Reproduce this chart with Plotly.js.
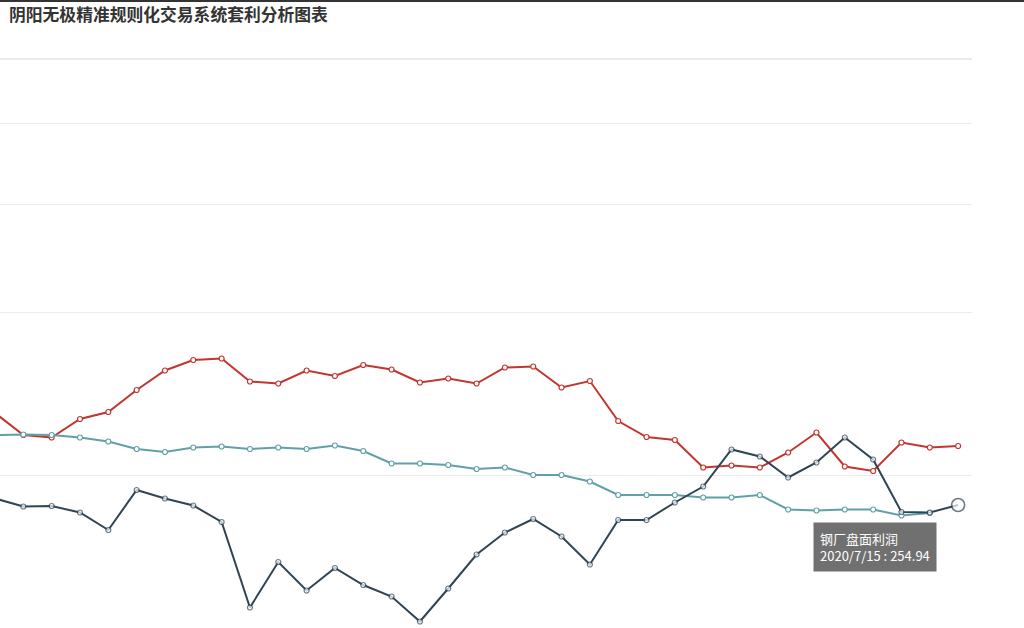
<!DOCTYPE html>
<html>
<head>
<meta charset="utf-8">
<script src="https://cdn.plot.ly/plotly-3.0.1.min.js"></script>
<style>
  html, body { margin: 0; padding: 0; background: #fff; overflow: hidden; }
  #chart { width: 1024px; height: 626px; border-top: 2px solid #333; }
</style>
</head>
<body>
<div id="chart"></div>
<script>
const dates = [
  "2019/11/20", "2019/11/27", "2019/12/4", "2019/12/11", "2019/12/18", "2019/12/25",
  "2020/1/1", "2020/1/8", "2020/1/15", "2020/1/22", "2020/1/29", "2020/2/5",
  "2020/2/12", "2020/2/19", "2020/2/26", "2020/3/4", "2020/3/11", "2020/3/18",
  "2020/3/25", "2020/4/1", "2020/4/8", "2020/4/15", "2020/4/22", "2020/4/29",
  "2020/5/6", "2020/5/13", "2020/5/20", "2020/5/27", "2020/6/3", "2020/6/10",
  "2020/6/17", "2020/6/24", "2020/7/1", "2020/7/8", "2020/7/15"
];

const redName = "螺纹盘面利润";
const redValues = [
  439, 395, 390, 427, 441, 485, 524, 545, 548, 502, 498, 524,
  513, 535, 526, 500, 508, 498, 530, 532, 490, 503, 423, 391,
  385, 330, 334, 330, 360, 400, 332, 323, 380, 370, 373
];

const tealName = "焦化盘面利润";
const tealValues = [
  395, 396, 395, 390, 382, 367, 361, 370, 372, 367, 370, 367,
  374, 363, 338, 338, 335, 327, 330, 315, 315, 302, 275, 275,
  275, 270, 270, 275, 246, 244, 246, 246, 234, 239, null
];

const darkName = "钢厂盘面利润";
const darkValues = [
  268, 252, 253, 240, 205, 285, 268, 254, 221, 50, 141, 84,
  129, 95, 72, 22, 88, 156, 200, 227, 192, 136, 225, 225,
  260, 292, 366, 352, 310, 340, 390, 346, 241, 240, 254.94
];

const gridValues = [315, 641, 857, 1019, 1147];

const lastIdx = dates.length - 1;

function lineTrace(name, values, color, sizes, borders) {
  return {
    type: "scatter",
    mode: "lines+markers",
    name: name,
    x: dates,
    y: values,
    line: { color: color, width: 2 },
    marker: {
      symbol: "circle",
      size: sizes || 5,
      color: "#fff",
      line: { color: color, width: borders || 1.2 },
    },
    cliponaxis: false,
  };
}

// the hovered point is drawn bigger, as in the tooltip state
const darkSizes = darkValues.map((v, i) => (i === lastIdx ? 13 : 5));
const darkBorders = darkValues.map((v, i) => (i === lastIdx ? 1.6 : 1.2));

const data = [
  lineTrace(redName, redValues, "#c23531"),
  lineTrace(tealName, tealValues, "#61a0a8"),
  lineTrace(darkName, darkValues, "#2f4554", darkSizes, darkBorders),
];

const layout = {
  width: 1024,
  height: 626,
  margin: { l: 0, r: 52, t: 48, b: 0, pad: 0 },
  paper_bgcolor: "#fff",
  plot_bgcolor: "#fff",
  showlegend: false,
  hovermode: false,
  font: { family: "Noto Sans CJK SC, Noto Sans, sans-serif", color: "#333" },
  title: {
    text: "阴阳无极精准规则化交易系统套利分析图表",
    font: { size: 16.8, weight: "bold", color: "#333", family: "Noto Sans CJK SC" },
    xref: "container",
    yref: "container",
    x: 9 / 1024,
    xanchor: "left",
    y: 1 - 13 / 626,
    yanchor: "middle",
  },
  xaxis: {
    type: "category",
    range: [0.1765, 34.49],
    showgrid: false,
    zeroline: false,
    showline: false,
    showticklabels: false,
    ticks: "",
    fixedrange: true,
  },
  yaxis: {
    range: [9, 1165],
    tickmode: "array",
    tickvals: gridValues,
    showgrid: true,
    gridcolor: "#ececec",
    gridwidth: 1,
    zeroline: false,
    showline: false,
    showticklabels: false,
    ticks: "",
    fixedrange: true,
  },
  shapes: [
    {
      type: "line",
      xref: "paper",
      yref: "y",
      x0: 0,
      x1: 1,
      y0: gridValues[gridValues.length - 1],
      y1: gridValues[gridValues.length - 1],
      line: { color: "#d0d0d0", width: 1 },
      layer: "below",
    },
  ],
  annotations: [
    {
      x: dates[lastIdx],
      y: darkValues[lastIdx],
      xref: "x",
      yref: "y",
      text: darkName + "<br>" + dates[lastIdx] + " : " + darkValues[lastIdx],
      showarrow: true,
      arrowcolor: "rgba(0,0,0,0)",
      ax: -83,
      ay: 42,
      align: "left",
      bgcolor: "rgba(80,80,80,0.82)",
      borderpad: 6,
      bordercolor: "rgba(0,0,0,0)",
      font: { color: "#fff", size: 13, family: "Noto Sans CJK SC" },
    },
  ],
};

Plotly.newPlot("chart", data, layout, { displayModeBar: false, staticPlot: true });
</script>
</body>
</html>
